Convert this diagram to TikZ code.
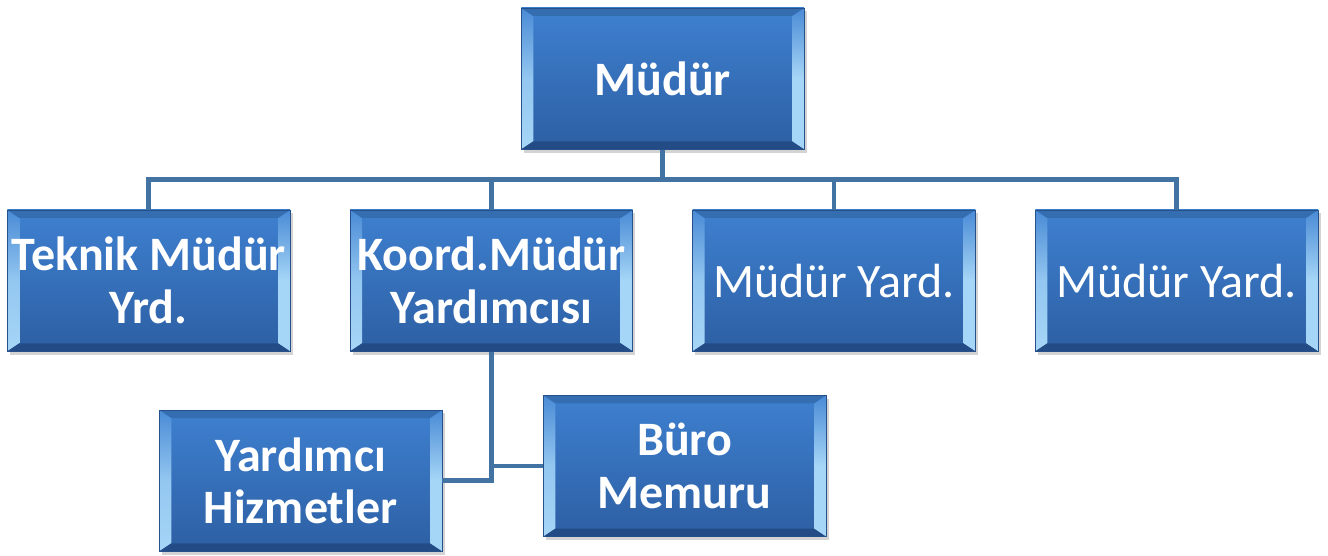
\documentclass[tikz,border=0pt]{standalone}
\usepackage{fontspec}
\setmainfont{Carlito}
\usetikzlibrary{positioning,shadows}

\definecolor{facetop}{HTML}{3E80D0}
\definecolor{facebot}{HTML}{2D5FA3}
\definecolor{boxedge}{HTML}{25508A}
\definecolor{bevlight}{HTML}{A6D6F7}
\definecolor{bevmid}{HTML}{4A8BD6}
\definecolor{bevdark}{HTML}{234C86}
\definecolor{linkblue}{HTML}{4373A2}

\tikzset{
  orgbox/.style={draw=boxedge, line width=0.6pt,
    minimum width=212pt, minimum height=106pt, inner sep=1pt,
    text=white, align=center, font=\fontsize{36}{39.5}\selectfont\bfseries,
    top color=facetop, bottom color=facebot,
    drop shadow={opacity=0.35, shadow xshift=2pt, shadow yshift=-2.5pt},
    path picture={
      \shade[top color=bevmid, bottom color=bevlight, middle color=bevlight!80!bevmid]
        (path picture bounding box.north west) -- ++(9pt,-6pt)
        -- ([shift={(9pt,6pt)}]path picture bounding box.south west)
        -- (path picture bounding box.south west) -- cycle;
      \shade[top color=bevmid, bottom color=bevlight, middle color=bevlight]
        (path picture bounding box.north east) -- ++(-9pt,-6pt)
        -- ([shift={(-9pt,6pt)}]path picture bounding box.south east)
        -- (path picture bounding box.south east) -- cycle;
      \fill[facetop!85!black]
        (path picture bounding box.north west) -- (path picture bounding box.north east)
        -- ++(-9pt,-6pt) -- ([shift={(9pt,-6pt)}]path picture bounding box.north west) -- cycle;
      \fill[bevdark]
        (path picture bounding box.south west) -- (path picture bounding box.south east)
        -- ++(-9pt,6pt) -- ([shift={(9pt,6pt)}]path picture bounding box.south west) -- cycle;
    }},
  plainbox/.style={orgbox, font=\fontsize{36}{39.5}\selectfont},
  link/.style={draw=linkblue, line width=3.6pt}
}

\begin{document}
\begin{tikzpicture}[on grid, node distance=151.5pt and 257pt]
   \useasboundingbox (0,0) rectangle (996pt,-417pt);
   \node[orgbox] (mudur) at (497pt,-59pt) {Müdür};
   \node[orgbox] (koord) [below left=151.5pt and 128.5pt of mudur] {Koord.Müdür\\Yardımcısı};
   \node[orgbox] (teknik) [left=of koord] {Teknik Müdür\\Yrd.};
   \node[plainbox] (yard1) [right=of koord] {Müdür Yard.};
   \node[plainbox] (yard2) [right=of yard1] {Müdür Yard.};
   \node[orgbox] (yardimci) [below left=150pt and 143pt of koord] {Yardımcı\\Hizmetler};
   \node[orgbox] (buro) [below right=139pt and 145pt of koord] {Büro\\Memuru};
   % connectors
   \path[link]
        (mudur.south) -- ++(0,-22.5pt) -| (teknik.north)
        (mudur.south) -- ++(0,-22.5pt) -| (koord.north)
        (mudur.south) -- ++(0,-22.5pt) -| (yard1.north)
        (mudur.south) -- ++(0,-22.5pt) -| (yard2.north)
        (koord.south) |- (yardimci.east)
        (koord.south) |- (buro.west);
\end{tikzpicture}
\end{document}
